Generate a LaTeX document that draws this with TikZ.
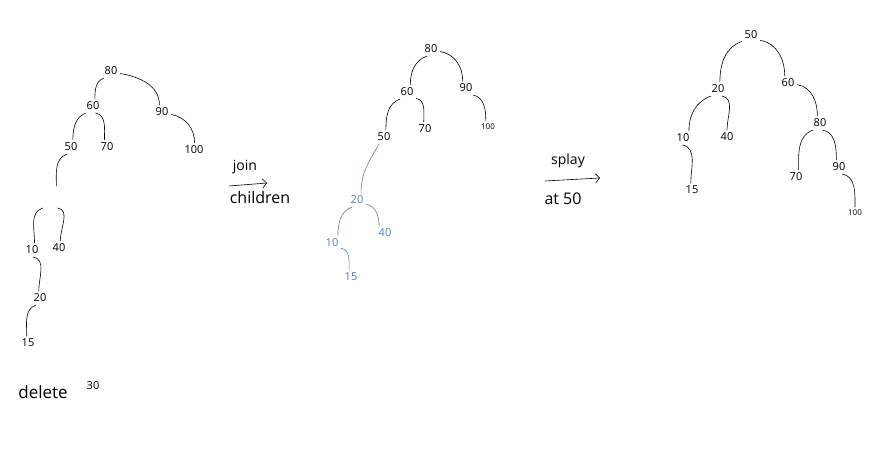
\documentclass[tikz,border=0pt]{standalone}
\usepackage{fontspec}
\setmainfont{Open Sans}
\usetikzlibrary{arrows.meta}
\definecolor{ink}{RGB}{92,124,178}
\begin{document}
\begin{tikzpicture}[x=1pt,y=1pt,>={Straight Barb[length=4pt,width=9pt]},line join=round,line cap=round,
	key/.style={inner sep=1pt,outer sep=2pt,font=\fontsize{11}{11}\selectfont},
	tiny/.style={key,font=\fontsize{8}{8}\selectfont},
	note/.style={inner sep=0pt,font=\fontsize{14}{14}\selectfont},
	edge/.style={line width=0.6pt},
	goleft/.style={out=200,in=90},
	goright/.style={out=-10,in=90}]
	\useasboundingbox (0,0) rectangle (882,-460);
	% before: 30 has been removed
	\node[key] (L80) at (111,-71) {80};
	\node[key] (L60) at (93,-106) {60};
	\node[key] (L90) at (162,-112) {90};
	\node[key] (L50) at (71,-147) {50};
	\node[key] (L70) at (107,-147) {70};
	\node[key] (L100) at (194,-150) {100};
	\node[inner sep=0pt,outer sep=0pt,minimum width=16pt,minimum height=22pt] (L30) at (50,-197) {};
	\node[key] (L10) at (32,-250) {10};
	\node[key] (L40) at (59,-248) {40};
	\node[key] (L20) at (40,-298) {20};
	\node[key] (L15) at (28,-343) {15};
	\draw[edge] (L80.225) to[goleft] (L60.75);
	\draw[edge] (L80.345) to[goright] (L90.110);
	\draw[edge] (L60.225) to[goleft] (L50.75);
	\draw[edge] (L60.290) to[goright] (L70.110);
	\draw[edge] (L90.345) to[goright] (L100.85);
	\draw[edge] (L50.240) to[goleft] (L30.60);
	\draw[edge] (L30.236) to[goleft] (L10.70);
	\draw[edge] (L30.305) to[goright] (L40.80);
	\draw[edge] (L10.280) to[goright] (L20.100);
	\draw[edge] (L20.240) to[goleft] (L15.100);
	\node[note,font=\fontsize{17}{17}\selectfont] (del) at (43,-392) {delete};
	\node[key] (del30) at (93,-386) {30};
	% join children
	\coordinate (j1) at (229,-186);
	\coordinate (j2) at (267,-183);
	\draw[edge,->] (j1) -- (j2);
	\node[note] (join) at (245,-167) {join};
	\node[note,font=\fontsize{16}{16}\selectfont] (kids) at (260,-197) {children};
	% after joining
	\node[key] (M80) at (431,-49) {80};
	\node[key] (M60) at (407,-92) {60};
	\node[key] (M90) at (466,-88) {90};
	\node[key] (M50) at (384,-137) {50};
	\node[key] (M70) at (425,-129) {70};
	\node[tiny] (M100) at (488,-127) {100};
	\node[key,text=ink] (M20) at (357,-200) {20};
	\node[key,text=ink] (M10) at (332,-243) {10};
	\node[key,text=ink] (M40) at (385,-233) {40};
	\node[key,text=ink] (M15) at (351,-277) {15};
	\draw[edge] (M80.240) to[goleft] (M60.65);
	\draw[edge] (M80.345) to[goright] (M90.115);
	\draw[edge] (M60.225) to[goleft] (M50.75);
	\draw[edge] (M60.325) to[goright] (M70.100);
	\draw[edge] (M90.315) to[goright] (M100.110);
	\draw[edge,ink] (M50.235) to[out=240,in=90] (M20.60);
	\draw[edge,ink] (M20.235) to[goleft] (M10.50);
	\draw[edge,ink] (M20.335) to[goright] (M40.130);
	\draw[edge,ink] (M10.330) to[goright] (M15.105);
	% splay at 50
	\coordinate (s1) at (545,-181);
	\coordinate (s2) at (600,-178);
	\draw[edge,->] (s1) -- (s2);
	\node[note] (splay) at (568,-161) {splay};
	\node[note,font=\fontsize{16}{16}\selectfont] (at50) at (563,-199) {at 50};
	% after splaying
	\node[key] (R50) at (751,-35) {50};
	\node[key] (R20) at (718,-89) {20};
	\node[key] (R60) at (788,-83) {60};
	\node[key] (R10) at (683,-138) {10};
	\node[key] (R40) at (727,-137) {40};
	\node[key] (R80) at (820,-123) {80};
	\node[key] (R15) at (692,-190) {15};
	\node[key] (R70) at (796,-177) {70};
	\node[key] (R90) at (839,-167) {90};
	\node[tiny] (R100) at (855,-213) {100};
	\draw[edge] (R50.215) to[goleft] (R20.75);
	\draw[edge] (R50.330) to[goright] (R60.115);
	\draw[edge] (R20.225) to[goleft] (R10.50);
	\draw[edge] (R20.300) to[goright] (R40.90);
	\draw[edge] (R60.350) to[goright] (R80.110);
	\draw[edge] (R10.265) to[goright] (R15.100);
	\draw[edge] (R80.225) to[goleft] (R70.70);
	\draw[edge] (R80.290) to[goright] (R90.110);
	\draw[edge] (R90.295) to[goright] (R100.90);
\end{tikzpicture}
\end{document}
